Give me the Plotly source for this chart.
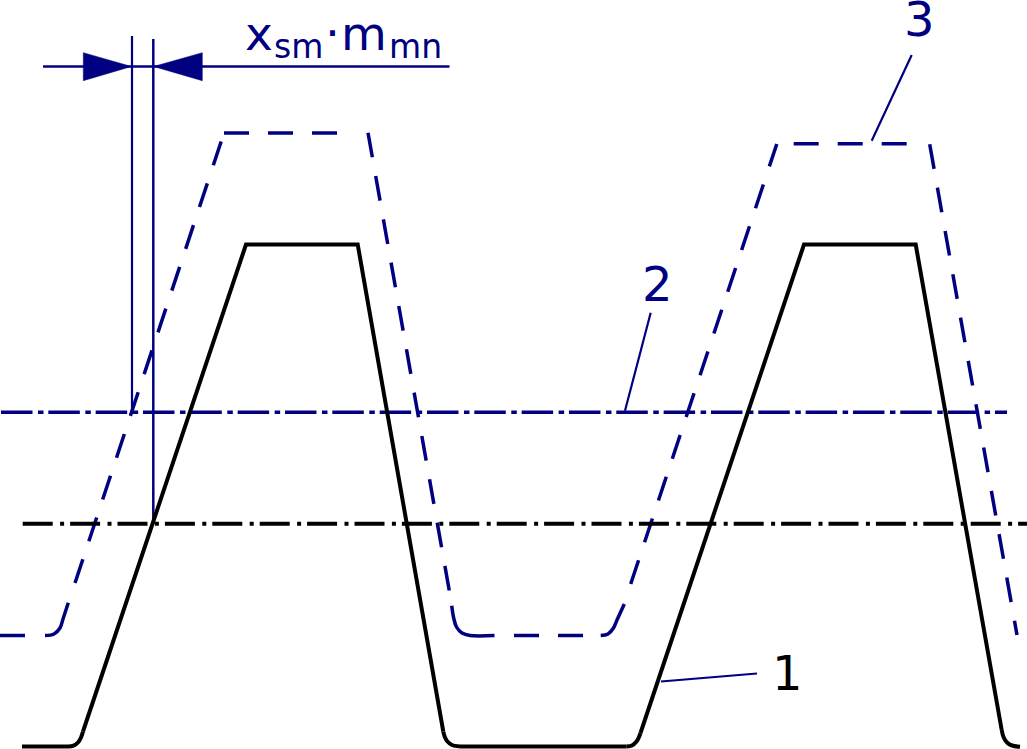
import plotly.graph_objects as go

NAVY = "#000080"
BLACK = "#000000"

# Solid tooth profile (1): straight runs and rounded root arcs
profile_runs_x = [
    [22, 68],
    [83, 246, 357.7, 443.3],
    [460, 626.7],
    [640.5, 804, 915.7, 1001.7],
]
profile_runs_y = [
    [746.5, 746.5],
    [731.5, 244.5, 244.5, 731.7],
    [746.5, 746.5],
    [733, 244.5, 244.5, 730],
]
profile_arcs_x = [
    [68, 73.5, 78, 81, 83],
    [443.3, 444.8, 447.5, 452, 460],
    [626.7, 632, 636.5, 639, 640.5],
    [1001.7, 1003.5, 1007, 1012, 1020],
]
profile_arcs_y = [
    [746.5, 745.7, 742.5, 737.5, 731.5],
    [731.7, 737, 741.5, 745, 746.5],
    [746.5, 745.5, 741.5, 737, 733],
    [730, 737, 742.5, 745.5, 746.8],
]

# Shifted dashed profile (3): piecewise so each run keeps its own dash phase
dashed_runs_x = [
    [0, 40],
    [75, 224],
    [224, 350],
    [368, 452],
    [514, 592],
    [630.7, 776.8],
    [793.7, 915],
    [929.7, 1017],
]
dashed_runs_y = [
    [635.5, 635.5],
    [583, 133],
    [133, 133],
    [132.7, 606],
    [635.5, 635.5],
    [584, 144],
    [143.8, 143.8],
    [144.3, 635],
]
# Rounded root arcs of the dashed profile, drawn unbroken
arcs_x = [
    [45, 54, 60, 63, 68.3],
    [451.7, 453.7, 456.5, 462, 470, 494.5],
    [600.7, 608, 613.5, 617, 624.3],
]
arcs_y = [
    [635.5, 634, 628, 619, 602.7],
    [605.7, 618, 627, 633, 635.5, 635.5],
    [635.5, 634, 628, 620, 604],
]

# Centre lines
pitch_line_x = [22.7, 1027]
pitch_line_y = [523.7, 523.7]
shifted_line_x = [1, 1007]
shifted_line_y = [412.3, 412.3]

# Dimension and leader lines
dim_x = [43, 449.5]
dim_y = [66.5, 66.5]
ext_left_x = [132, 132]
ext_left_y = [36, 413]
ext_right_x = [153.3, 153.3]
ext_right_y = [39, 523.7]
leader1_x = [661, 757]
leader1_y = [681.5, 673.5]
leader2_x = [625, 650.7]
leader2_y = [410.7, 312.7]
leader3_x = [871.7, 911.7]
leader3_y = [140.7, 55]

# Dimension arrowheads
arrow_left_x = [83.3, 83.3, 131.5, 83.3]
arrow_left_y = [52.7, 80.7, 66.5, 52.7]
arrow_right_x = [202.3, 202.3, 153.5, 202.3]
arrow_right_y = [52.7, 80.7, 66.5, 52.7]

# Labels: text, x, y, size, colour
label_text = ["x", "sm", "·", "m", "mn", "1", "2", "3"]
label_x = [245, 274, 325, 341, 389, 787, 657.5, 919]
label_y = [33, 46, 32, 33, 46, 673, 284, 19]
label_size = [47, 33, 47, 47, 33, 48, 48, 48]
label_color = [NAVY, NAVY, NAVY, NAVY, NAVY, BLACK, NAVY, NAVY]
label_anchor = ["left", "left", "left", "left", "left", "center", "center", "center"]

fig = go.Figure()


def add_line(x, y, color, width, dash="solid", shape="linear"):
    fig.add_trace(go.Scatter(x=x, y=y, mode="lines", hoverinfo="skip",
                             line=dict(color=color, width=width, dash=dash, shape=shape)))


add_line(shifted_line_x, shifted_line_y, NAVY, 3.5, "31.5px,5.5px,5.5px,4.83px")
for rx, ry in zip(dashed_runs_x, dashed_runs_y):
    add_line(rx, ry, NAVY, 3.5, "25px,19px")
for ax, ay in zip(arcs_x, arcs_y):
    add_line(ax, ay, NAVY, 3.5, shape="spline")
add_line(dim_x, dim_y, NAVY, 2.5)
add_line(ext_left_x, ext_left_y, NAVY, 2.2)
add_line(ext_right_x, ext_right_y, NAVY, 2.5)
add_line(leader1_x, leader1_y, NAVY, 2.2)
add_line(leader2_x, leader2_y, NAVY, 2.2)
add_line(leader3_x, leader3_y, NAVY, 2.2)
for ax, ay in ((arrow_left_x, arrow_left_y), (arrow_right_x, arrow_right_y)):
    fig.add_trace(go.Scatter(x=ax, y=ay, mode="lines", fill="toself", fillcolor=NAVY,
                             hoverinfo="skip", line=dict(color=NAVY, width=0.5)))
add_line(pitch_line_x, pitch_line_y, BLACK, 4, "30px,7.4px,4px,6px")
for rx, ry in zip(profile_runs_x, profile_runs_y):
    add_line(rx, ry, BLACK, 4)
for ax, ay in zip(profile_arcs_x, profile_arcs_y):
    add_line(ax, ay, BLACK, 4, shape="spline")

for t, x, y, s, c, a in zip(label_text, label_x, label_y, label_size, label_color, label_anchor):
    fig.add_annotation(x=x, y=y, text=t, showarrow=False, xanchor=a, yanchor="middle",
                       borderpad=0, borderwidth=0,
                       font=dict(family="DejaVu Sans", size=s, color=c))

fig.update_layout(
    width=1027, height=749,
    margin=dict(l=0, r=0, t=0, b=0, pad=0),
    paper_bgcolor="white", plot_bgcolor="white",
    showlegend=False,
    xaxis=dict(range=[0, 1027], visible=False, fixedrange=True),
    yaxis=dict(range=[749, 0], visible=False, fixedrange=True),
)
fig.write_html("out.html", config={"displayModeBar": False},
               post_script='document.body.style.margin="0";document.body.style.overflow="hidden";')
